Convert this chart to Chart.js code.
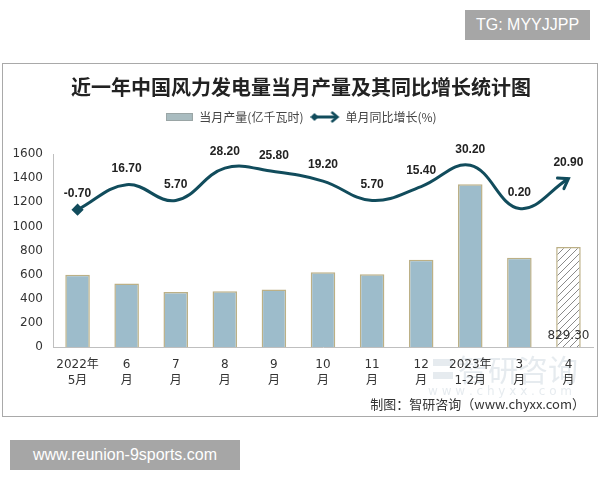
<!DOCTYPE html>
<html>
<head>
<meta charset="utf-8">
<script src="https://cdn.jsdelivr.net/npm/chart.js@4.4.1/dist/chart.umd.min.js"></script>
<style>
  body { margin: 0; background: #fff; }
  #wrap { position: relative; width: 600px; height: 480px; }
  .tag { position: absolute; background: #a6a6a6; color: #fff; text-align: center;
         font-family: "Liberation Sans", Arial, sans-serif; }
</style>
</head>
<body>
<div id="wrap">
  <canvas id="windChart" width="600" height="480"></canvas>
  <div class="tag" style="left:465px;top:10px;width:125px;height:30px;line-height:30px;font-size:16px;">TG: MYYJJPP</div>
  <div class="tag" style="left:10px;top:440px;width:230px;height:30px;line-height:30px;font-size:16px;">www.reunion-9sports.com</div>
</div>
<script>
const months = [['2022年', '5月'], ['6', '月'], ['7', '月'], ['8', '月'], ['9', '月'], ['10', '月'],
  ['11', '月'], ['12', '月'], ['2023年', '1-2月'], ['3', '月'], ['4', '月']];
const output = [600, 526, 455, 463, 477, 619, 603, 724, 1349, 740, 829.3];
const growth = [-0.7, 16.7, 5.7, 28.2, 25.8, 19.2, 5.7, 15.4, 30.2, 0.2, 20.9];
const yTicks = [0, 200, 400, 600, 800, 1000, 1200, 1400, 1600];

const lineColor = '#114c5c';
const barFill = '#9dbccb';
const barEdge = '#bcb086';

// hatch for the last (preliminary) bar
const hatch = document.createElement('canvas');
hatch.width = 7; hatch.height = 7;
const hc = hatch.getContext('2d');
hc.fillStyle = '#fff';
hc.fillRect(0, 0, 7, 7);
hc.strokeStyle = '#8a8a8a';
hc.lineWidth = 1;
hc.beginPath();
hc.moveTo(-1, 8); hc.lineTo(8, -1);
hc.moveTo(-1, 1); hc.lineTo(1, -1);
hc.moveTo(6, 8); hc.lineTo(8, 6);
hc.stroke();
const hatchPattern = hc.createPattern(hatch, 'repeat');

const barColors = output.map((v, i) => i === output.length - 1 ? hatchPattern : barFill);

// legend swatches
const barSwatch = document.createElement('canvas');
barSwatch.width = 27; barSwatch.height = 8;
const bs = barSwatch.getContext('2d');
bs.fillStyle = '#a9bcc0';
bs.fillRect(0.5, 0.5, 26, 7);
bs.strokeStyle = '#9aa5a5';
bs.strokeRect(0.5, 0.5, 26, 7);

const lineSwatch = document.createElement('canvas');
lineSwatch.width = 30; lineSwatch.height = 14;
const ls = lineSwatch.getContext('2d');
ls.strokeStyle = lineColor; ls.fillStyle = lineColor; ls.lineWidth = 3;
ls.beginPath(); ls.moveTo(5, 7); ls.lineTo(26, 7); ls.stroke();
ls.beginPath(); ls.moveTo(0, 7); ls.lineTo(4, 3); ls.lineTo(8, 7); ls.lineTo(4, 11); ls.closePath(); ls.fill();
ls.lineWidth = 2.5;
ls.beginPath(); ls.moveTo(21, 2); ls.lineTo(27, 7); ls.lineTo(21, 12); ls.stroke();

const decor = {
  id: 'decor',
  beforeDraw(chart) {
    const ctx = chart.ctx;
    ctx.save();
    ctx.fillStyle = '#fff';
    ctx.fillRect(0, 0, chart.width, chart.height);
    ctx.strokeStyle = '#a9a9a9';
    ctx.lineWidth = 1;
    ctx.strokeRect(2.5, 63.5, 595, 353);
    // watermark
    ctx.fillStyle = 'rgba(200,210,220,0.45)';
    ctx.font = '30px "Noto Sans CJK SC"';
    ctx.textBaseline = 'middle';
    ctx.fillText('智研咨询', 458, 370);
    ctx.fillRect(433, 359, 20, 7);
    ctx.fillRect(433, 372, 20, 7);
    ctx.font = '12px "DejaVu Sans"';
    ctx.fillText('w w w . c h y x x . c o m', 428, 392);
    // source note
    ctx.fillStyle = '#333';
    ctx.font = '13px "Noto Sans CJK SC"';
    ctx.textAlign = 'right';
    ctx.fillText('制图：智研咨询（www.chyxx.com）', 585, 404);
    ctx.restore();
  },
  afterDatasetsDraw(chart) {
    const ctx = chart.ctx;
    const pts = chart.getDatasetMeta(1).data;
    const bars = chart.getDatasetMeta(0).data;
    ctx.save();
    // arrow head at the end of the growth line
    const last = pts[pts.length - 1];
    const ang = Math.atan2(last.y - last.cp1y, last.x - last.cp1x);
    ctx.strokeStyle = lineColor;
    ctx.lineWidth = 3;
    ctx.lineCap = 'round';
    ctx.beginPath();
    ctx.moveTo(last.x - 11 * Math.cos(ang - 0.6), last.y - 11 * Math.sin(ang - 0.6));
    ctx.lineTo(last.x, last.y);
    ctx.lineTo(last.x - 11 * Math.cos(ang + 0.6), last.y - 11 * Math.sin(ang + 0.6));
    ctx.stroke();
    // growth labels
    ctx.fillStyle = '#222';
    ctx.font = 'bold 12px "Liberation Sans"';
    ctx.textAlign = 'center';
    ctx.textBaseline = 'middle';
    pts.forEach((p, i) => ctx.fillText(growth[i].toFixed(2), p.x, p.y - 16));
    // value of the last bar
    const b = bars[bars.length - 1];
    ctx.font = '12px "DejaVu Sans"';
    ctx.fillStyle = '#333';
    ctx.fillText(output[output.length - 1].toFixed(2), b.x, b.base - 11);
    ctx.restore();
  }
};

new Chart(document.getElementById('windChart'), {
  data: {
    labels: months,
    datasets: [{
      type: 'bar',
      label: '当月产量(亿千瓦时)',
      data: output,
      backgroundColor: barColors,
      borderColor: barEdge,
      borderWidth: 1.5,
      categoryPercentage: 1,
      barPercentage: 0.5,
      yAxisID: 'y',
      order: 2
    }, {
      type: 'line',
      label: '单月同比增长(%)',
      data: growth,
      borderColor: lineColor,
      backgroundColor: lineColor,
      borderWidth: 3,
      tension: 0.4,
      pointStyle: 'rectRot',
      pointRadius: ctx => ctx.dataIndex === 0 ? 4 : 0,
      yAxisID: 'y1',
      order: 1
    }]
  },
  options: {
    responsive: false,
    animation: false,
    layout: { padding: { top: 63, left: 4, right: 2, bottom: 64 } },
    scales: {
      x: {
        grid: { display: false, drawTicks: false },
        border: { color: '#bfbfbf' },
        ticks: {
          color: '#333',
          padding: 9,
          maxRotation: 0,
          autoSkip: false,
          font: { family: '"DejaVu Sans", "Noto Sans CJK SC"', size: 12, lineHeight: 1.4 }
        },
        afterFit: scale => { scale.height = 69; }
      },
      y: {
        min: 0,
        max: 1600,
        afterBuildTicks: scale => { scale.ticks = yTicks.map(v => ({ value: v })); },
        grid: { display: false, drawTicks: false },
        border: { color: '#bfbfbf' },
        ticks: {
          color: '#333',
          padding: 10,
          callback: v => String(v),
          font: { family: '"DejaVu Sans"', size: 12 }
        },
        afterFit: scale => { scale.width = 49; }
      },
      y1: {
        display: false,
        min: -96,
        max: 38
      }
    },
    plugins: {
      title: {
        display: true,
        text: '近一年中国风力发电量当月产量及其同比增长统计图',
        color: '#222',
        font: { family: '"Noto Sans CJK SC"', size: 20, weight: 'bold', lineHeight: 1.2 },
        padding: { top: 12, bottom: 4 }
      },
      // empty spacer box between legend and plot
      subtitle: {
        display: true,
        text: '',
        weight: 500,
        font: { size: 1, lineHeight: 1 },
        padding: { top: 10, bottom: 10 }
      },
      legend: {
        labels: {
          usePointStyle: true,
          pointStyleWidth: 28,
          padding: 8,
          color: '#444',
          font: { family: '"Noto Sans CJK SC"', size: 12 },
          generateLabels: chart => chart.data.datasets.map((ds, i) => ({
            text: ds.label,
            pointStyle: i === 0 ? barSwatch : lineSwatch,
            datasetIndex: i,
            fontColor: '#444',
            hidden: false
          }))
        }
      },
      tooltip: { enabled: false }
    }
  },
  plugins: [decor]
});
</script>
</body>
</html>
